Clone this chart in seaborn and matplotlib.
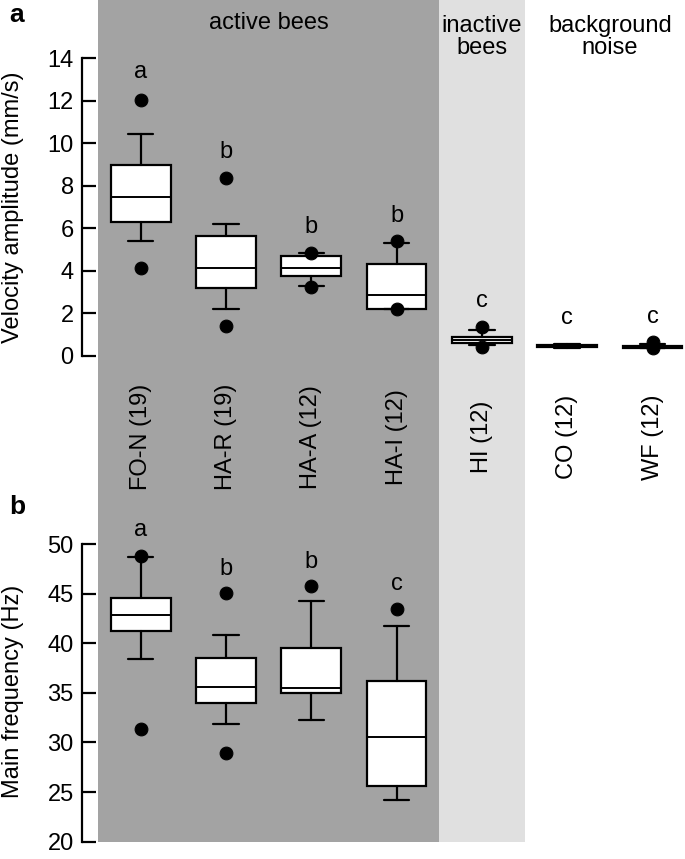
import numpy as np
import pandas as pd
import matplotlib
matplotlib.use("Agg")
import matplotlib.pyplot as plt
import seaborn as sns

# --- data ---
groups = ["FO-N (19)", "HA-R (19)", "HA-A (12)", "HA-I (12)", "HI (12)", "CO (12)", "WF (12)"]

# panel a: velocity amplitude (mm/s)
amp_whislo = [5.4, 2.2, 3.3, 2.2, 0.5, 0.36, 0.36]
amp_q1 = [6.3, 3.2, 3.75, 2.2, 0.6, 0.42, 0.39]
amp_med = [7.45, 4.15, 4.15, 2.85, 0.75, 0.47, 0.43]
amp_q3 = [8.95, 5.65, 4.7, 4.3, 0.88, 0.52, 0.48]
amp_whishi = [10.45, 6.2, 4.85, 5.3, 1.2, 0.56, 0.55]
amp_dot_lo = [4.15, 1.4, 3.25, 2.2, 0.44, np.nan, 0.36]
amp_dot_hi = [12.05, 8.35, 4.85, 5.4, 1.35, np.nan, 0.65]
amp_letters = ["a", "b", "b", "b", "c", "c", "c"]
amp_letter_y = [13.35, 9.6, 6.05, 6.6, 2.6, 1.8, 1.85]

# panel b: main frequency (Hz), active bees only
freq_whislo = [38.4, 31.9, 32.3, 24.2]
freq_q1 = [41.2, 34.0, 35.0, 25.6]
freq_med = [42.8, 35.6, 35.5, 30.6]
freq_q3 = [44.6, 38.5, 39.5, 36.2]
freq_whishi = [48.7, 40.8, 44.3, 41.7]
freq_dot_lo = [31.4, 28.9, np.nan, np.nan]
freq_dot_hi = [48.8, 45.1, 45.8, 43.4]
freq_letters = ["a", "b", "b", "c"]
freq_letter_y = [51.4, 47.5, 48.2, 46.0]

sections = ["active bees", "inactive\nbees", "background\nnoise"]
section_span = [(-0.5, 3.5), (3.5, 4.5), (4.5, 6.5)]
section_color = ["#a3a3a3", "#e0e0e0", "white"]

sns.set_style("ticks")
plt.rcParams["font.family"] = ["Liberation Sans", "DejaVu Sans"]
plt.rcParams["text.color"] = "black"
plt.rcParams["ytick.color"] = "black"
plt.rcParams["xtick.color"] = "black"
plt.rcParams["axes.labelcolor"] = "black"
FS = 17

W, H = 685, 859
fig = plt.figure(figsize=(W / 100, H / 100), dpi=100)
xlim = (-0.6876, 6.38)
left, width = 82 / W, 603 / W


def fy(px):
    return 1 - px / H


# background shading behind both panels
ax_bg = fig.add_axes([left, 17 / H, width, 1 - 17 / H], zorder=0)
ax_bg.set_xlim(*xlim)
ax_bg.set_ylim(0, 1)
ax_bg.axis("off")
for (x0, x1), c in zip(section_span, section_color):
    ax_bg.axvspan(x0, x1, color=c, lw=0)
for name, (x0, x1) in zip(sections, section_span):
    yc = 23 if "\n" not in name else 37
    ax_bg.text((x0 + x1) / 2 if x1 < 6 else 5.5, 1 - yc / (H - 17), name,
               ha="center", va="center", fontsize=FS, linespacing=1.05)

ax_a = fig.add_axes([left, fy(362), width, fy(52) - fy(362)], zorder=1)
ax_b = fig.add_axes([left, fy(845), width, fy(538) - fy(845)], zorder=1)


def draw(ax, n, whislo, q1, med, q3, whishi, dlo, dhi, letters, ly):
    stats = [dict(med=med[i], q1=q1[i], q3=q3[i], whislo=whislo[i],
                  whishi=whishi[i], fliers=[]) for i in range(n)]
    ax.bxp(stats, positions=range(n), widths=0.7, showfliers=False,
           patch_artist=True,
           boxprops=dict(facecolor="white", edgecolor="black", lw=1.6),
           medianprops=dict(color="black", lw=1.4),
           whiskerprops=dict(color="black", lw=1.6),
           capprops=dict(color="black", lw=1.6), capwidths=0.3)
    dots = pd.DataFrame({"x": list(range(n)) * 2, "y": list(dlo) + list(dhi)}).dropna()
    sns.scatterplot(data=dots, x="x", y="y", ax=ax, color="black", s=85,
                    edgecolor="black", zorder=5, legend=False)
    for i in range(n):
        ax.text(i, ly[i], letters[i], ha="center", va="center", fontsize=FS)
    ax.patch.set_alpha(0)
    ax.set_xlim(*xlim)
    for s in ["top", "right", "bottom"]:
        ax.spines[s].set_visible(False)
    ax.spines["left"].set_linewidth(1.6)
    ax.spines["left"].set_color("black")
    ax.tick_params(axis="y", direction="in", length=10, width=1.6, pad=6,
                   labelsize=FS)
    ax.set_xlabel("")


draw(ax_a, 7, amp_whislo, amp_q1, amp_med, amp_q3, amp_whishi,
     amp_dot_lo, amp_dot_hi, amp_letters, amp_letter_y)
ax_a.set_ylim(-6 / 21.26, 14 + 6 / 21.26)
ax_a.set_yticks(range(0, 15, 2))
ax_a.spines["left"].set_bounds(0, 14)
ax_a.set_ylabel("Velocity amplitude (mm/s)", fontsize=FS)
ax_a.yaxis.set_label_coords(-58 / 603, 0.5)
ax_a.set_xticks(range(7))
ax_a.set_xticklabels(groups, rotation=90, fontsize=FS)
ax_a.tick_params(axis="x", length=0, pad=54)
for lbl in ax_a.get_xticklabels():
    lbl.set_va("center")

draw(ax_b, 4, freq_whislo, freq_q1, freq_med, freq_q3, freq_whishi,
     freq_dot_lo, freq_dot_hi, freq_letters, freq_letter_y)
ax_b.set_ylim(20 - 3.3 / 9.92, 50 + 6 / 9.92)
ax_b.set_yticks(range(20, 51, 5))
ax_b.spines["left"].set_bounds(20, 50)
ax_b.set_ylabel("Main frequency (Hz)", fontsize=FS)
ax_b.yaxis.set_label_coords(-58 / 603, 0.5)
ax_b.set_xticks([])

fig.text(17 / W, fy(15), "a", fontsize=19, fontweight="bold", ha="center", va="center")
fig.text(17 / W, fy(507), "b", fontsize=19, fontweight="bold", ha="center", va="center")

fig.savefig("out.png", dpi=100)
